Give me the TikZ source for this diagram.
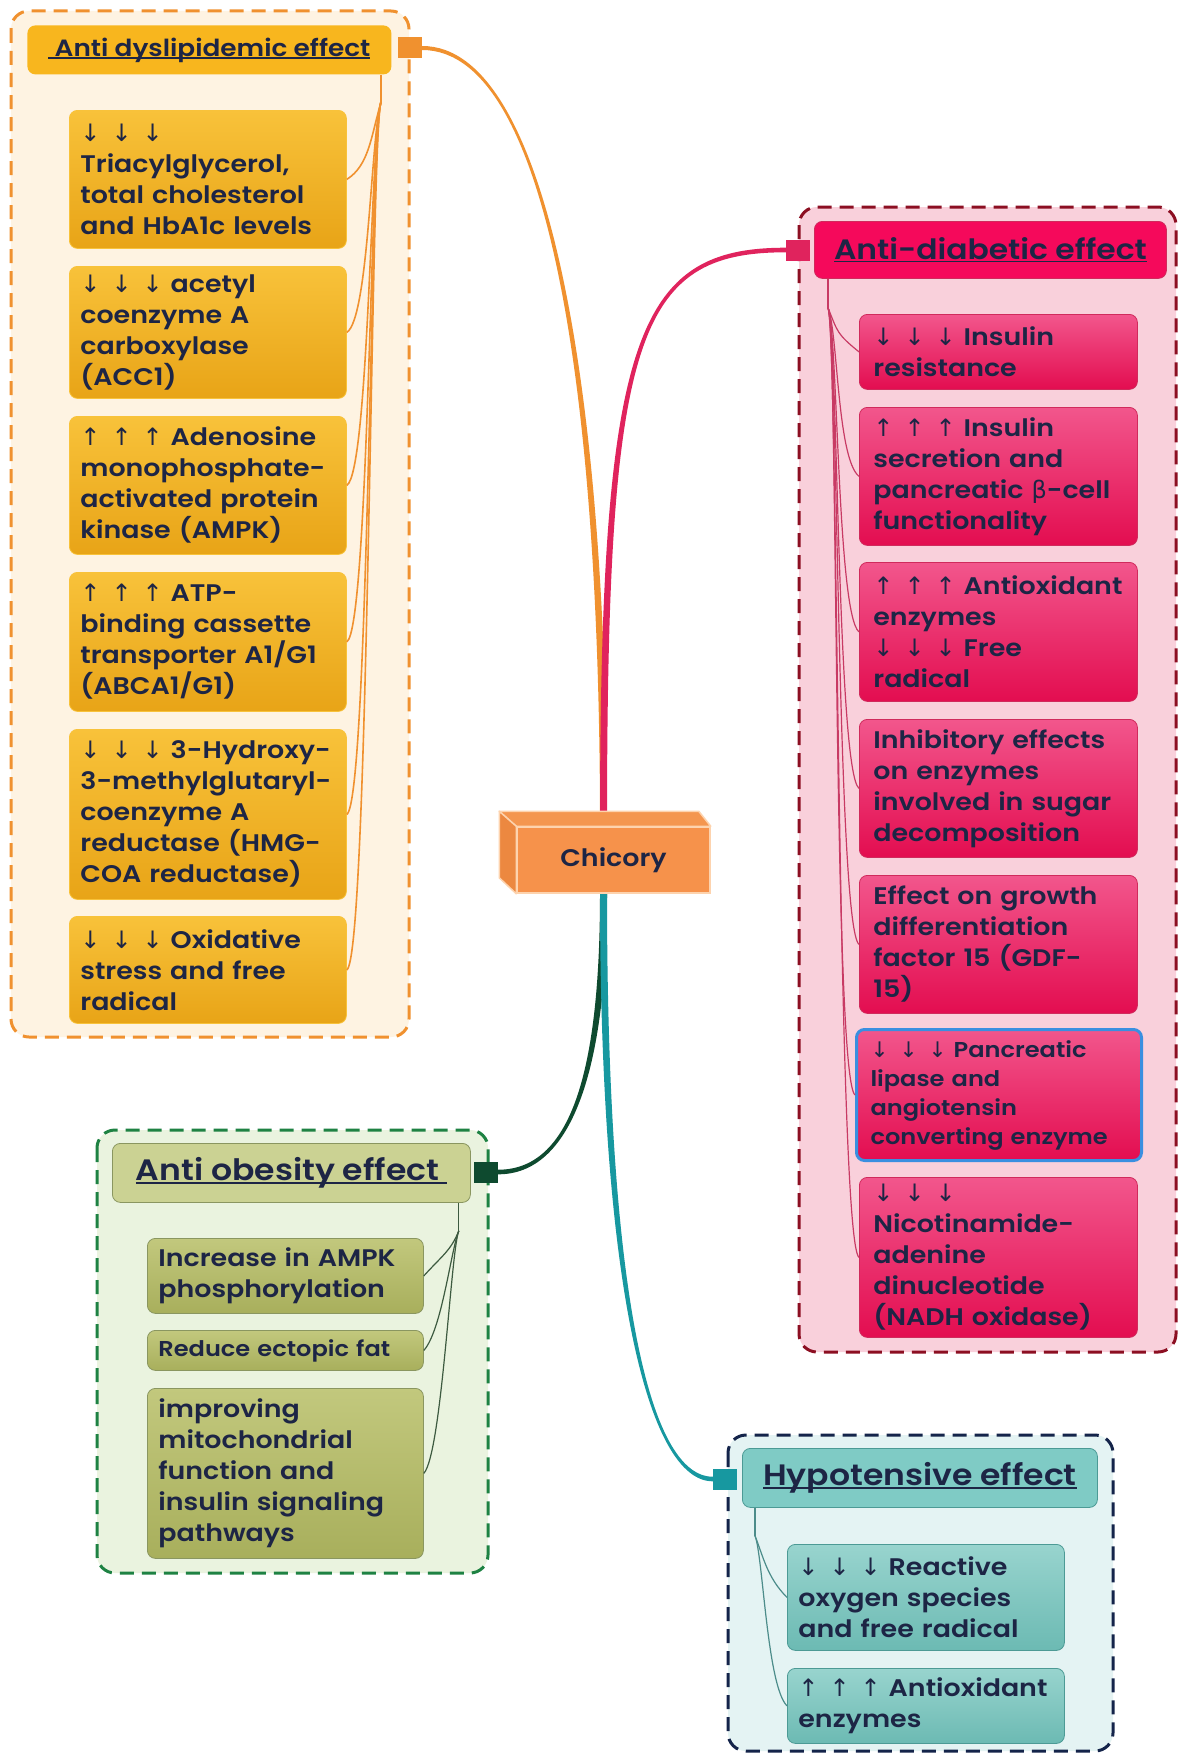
\documentclass[tikz,border=0pt]{standalone}
\usepackage{fontspec}
\newfontfamily\pop{Poppins SemiBold}[FakeStretch=1.12]
\newfontfamily\djv{DejaVu Sans}
\usetikzlibrary{calc,backgrounds}
\newcommand\dn{{\djv ↓}}
\newcommand\upa{{\djv ↑}}
\newcommand\ddd{\dn\hspace{11pt}\dn\hspace{11pt}\dn}
\newcommand\uuu{\upa\hspace{11pt}\upa\hspace{11pt}\upa}
\newsavebox\ulbox
\newcommand\ttl[1]{\sbox\ulbox{#1}\rlap{\rule[-3pt]{\wd\ulbox}{1.8pt}}\usebox\ulbox}
\definecolor{txt}{HTML}{1D2545}
\definecolor{cO}{HTML}{F0912F}
\definecolor{oBg}{HTML}{FEF3E2}
\definecolor{oTitle}{HTML}{F8B61E}
\definecolor{oTop}{HTML}{F8C23A}
\definecolor{oBot}{HTML}{E8A417}
\definecolor{cP}{HTML}{E0235D}
\definecolor{pBord}{HTML}{8C0F22}
\definecolor{pBg}{HTML}{F9D0DB}
\definecolor{pTitle}{HTML}{F5095B}
\definecolor{pTop}{HTML}{F2568C}
\definecolor{pBot}{HTML}{E30D50}
\definecolor{pEdge}{HTML}{D02A5C}
\definecolor{pConn}{HTML}{C83A64}
\definecolor{cG}{HTML}{0E4A2F}
\definecolor{gBord}{HTML}{1E8243}
\definecolor{gBg}{HTML}{EAF3DF}
\definecolor{gTitle}{HTML}{CBD293}
\definecolor{gEdge}{HTML}{8A9660}
\definecolor{gTop}{HTML}{C2C87D}
\definecolor{gBot}{HTML}{A8AF5C}
\definecolor{gConn}{HTML}{3D5A40}
\definecolor{cT}{HTML}{1798A0}
\definecolor{tBord}{HTML}{14244A}
\definecolor{tBg}{HTML}{E4F3F3}
\definecolor{tTitle}{HTML}{7FCBC5}
\definecolor{tEdge}{HTML}{4C9A95}
\definecolor{tTop}{HTML}{98D4CE}
\definecolor{tBot}{HTML}{6CBAB3}
\definecolor{tConn}{HTML}{4C8C8A}
\definecolor{chF}{HTML}{F6924B}
\definecolor{chT}{HTML}{F4964F}
\definecolor{chL}{HTML}{EC8840}
\definecolor{chE}{HTML}{FDD3AE}
\definecolor{blueEdge}{HTML}{3A8FE0}
\tikzset{
  cont/.style={line width=3pt, dash pattern=on 14pt off 8pt, rounded corners=18pt},
  sq/.style={rectangle, inner sep=0pt, minimum width=24pt, minimum height=21pt},
  bodyfont/.style={font=\pop\fontsize{24}{31}\selectfont},
  childbox/.style={rectangle, rounded corners=8pt, align=left, anchor=north west,
    inner xsep=11pt, inner ysep=0pt, text=txt, bodyfont, line width=0.8pt},
  obox/.style={childbox, top color=oTop, bottom color=oBot, draw=oTop},
  pbox/.style={childbox, top color=pTop, bottom color=pBot, draw=pEdge, inner xsep=14pt},
  gbox/.style={childbox, top color=gTop, bottom color=gBot, draw=gEdge},
  tbox/.style={childbox, top color=tTop, bottom color=tBot, draw=tEdge},
  titlebox/.style={rectangle, rounded corners=8pt, anchor=north west, inner sep=0pt, text=txt, line width=0.8pt},
  thin/.style={line width=1.2pt},
}
\begin{document}
\begin{tikzpicture}[x=1pt,y=-1pt]
\useasboundingbox (0,0) rectangle (1178,1753);

% ---------- central node ----------
\node[rectangle, fill=chF, draw=chE, line width=1.5pt, minimum width=193pt, minimum height=66pt,
      inner sep=0pt, text=txt, font=\pop\fontsize{24}{28}\selectfont] (chic) at (613.5,860) {Chicory};
\filldraw[fill=chT, draw=chE, line width=1.5pt, line join=round]
  ($(chic.north west)+(-17,-15)$) -- ($(chic.north east)+(-12,-15)$) -- (chic.north east) -- (chic.north west) -- cycle;
\filldraw[fill=chL, draw=chE, line width=1.5pt, line join=round]
  ($(chic.north west)+(-17,-15)$) -- (chic.north west) -- (chic.south west) -- ($(chic.south west)+(-17,-16)$) -- cycle;
\coordinate (ctop) at ($(chic.north)+(-10,0)$);
\coordinate (cbot) at ($(chic.south)+(-10,0)$);

% ---------- connector squares ----------
\node[sq, fill=cO] (sqA) at (410,48) {};
\node[sq, fill=cP] (sqB) at (798,250) {};
\node[sq, fill=cG] (sqC) at (486,1172) {};
\node[sq, fill=cT] (sqD) at (725,1479) {};

% ---------- titles ----------
\node[titlebox, fill=oTitle, minimum width=364pt, minimum height=49pt,
      font=\pop\fontsize{23.5}{28}\selectfont] (tA) at (27,25) {\ttl{\ Anti dyslipidemic effect}};
\node[titlebox, fill=pTitle, draw=pEdge, minimum width=352pt, minimum height=57pt,
      font=\pop\fontsize{28}{32}\selectfont] (tB) at (814,221) {\ttl{Anti-diabetic effect}};
\node[titlebox, fill=gTitle, draw=gEdge, minimum width=358pt, minimum height=59pt,
      font=\pop\fontsize{29.5}{33}\selectfont] (tC) at (112,1143) {\ttl{Anti obesity effect\ }};
\node[titlebox, fill=tTitle, draw=tEdge, minimum width=355pt, minimum height=59pt,
      font=\pop\fontsize{29.5}{33}\selectfont] (tD) at (742,1448) {\ttl{Hypotensive effect}};

% ---------- orange children ----------
\node[obox, minimum width=277pt, minimum height=138pt, text width=255pt] (oa1) at (69,110)
  {\ddd\\Triacylglycerol,\\total cholesterol\\and HbA1c levels};
\node[obox, minimum width=277pt, minimum height=132pt, text width=255pt] (oa2) at (69,266)
  {\ddd{} acetyl\\coenzyme A\\carboxylase\\(ACC1)};
\node[obox, minimum width=277pt, minimum height=138pt, text width=255pt] (oa3) at (69,416)
  {\uuu{} Adenosine\\monophosphate-\\activated protein\\kinase (AMPK)};
\node[obox, minimum width=277pt, minimum height=139pt, text width=255pt] (oa4) at (69,572)
  {\uuu{} ATP-\\binding cassette\\transporter A1/G1\\(ABCA1/G1)};
\node[obox, minimum width=277pt, minimum height=170pt, text width=255pt] (oa5) at (69,729)
  {\ddd{} 3-Hydroxy-\\3-methylglutaryl-\\coenzyme A\\reductase (HMG-\\COA reductase)};
\node[obox, minimum width=277pt, minimum height=107pt, text width=255pt] (oa6) at (69,916)
  {\ddd{} Oxidative\\stress and free\\radical};

% ---------- pink children ----------
\node[pbox, minimum width=278pt, minimum height=75pt, text width=250pt] (pb1) at (859,314)
  {\ddd{} Insulin\\resistance};
\node[pbox, minimum width=278pt, minimum height=138pt, text width=250pt] (pb2) at (859,407)
  {\uuu{} Insulin\\secretion and\\pancreatic {\djv β}-cell\\functionality};
\node[pbox, minimum width=278pt, minimum height=139pt, text width=250pt] (pb3) at (859,562)
  {\uuu{} Antioxidant\\enzymes\\\ddd{} Free\\radical};
\node[pbox, minimum width=278pt, minimum height=138pt, text width=250pt] (pb4) at (859,719)
  {Inhibitory effects\\on enzymes\\involved in sugar\\decomposition};
\node[pbox, minimum width=278pt, minimum height=138pt, text width=250pt] (pb5) at (859,875)
  {Effect on growth\\differentiation\\factor 15 (GDF-\\15)};
\node[pbox, draw=blueEdge, line width=3pt, minimum width=285pt, minimum height=131pt, text width=257pt,
      font=\pop\fontsize{21.5}{29}\selectfont] (pb6) at (855,1028)
  {\ddd{} Pancreatic\\lipase and\\angiotensin\\converting enzyme};
\node[pbox, minimum width=278pt, minimum height=160pt, text width=250pt] (pb7) at (859,1177)
  {\ddd\\Nicotinamide-\\adenine\\dinucleotide\\(NADH oxidase)};

% ---------- green children ----------
\node[gbox, minimum width=276pt, minimum height=75pt, text width=254pt] (gc1) at (147,1238)
  {Increase in AMPK\\phosphorylation};
\node[gbox, minimum width=276pt, minimum height=40pt, text width=254pt,
      font=\pop\fontsize{21.5}{26}\selectfont] (gc2) at (147,1330)
  {Reduce ectopic fat};
\node[gbox, minimum width=276pt, minimum height=170pt, text width=254pt] (gc3) at (147,1388)
  {improving\\mitochondrial\\function and\\insulin signaling\\pathways};

% ---------- teal children ----------
\node[tbox, minimum width=277pt, minimum height=106pt, text width=255pt] (td1) at (787,1544)
  {\ddd{} Reactive\\oxygen species\\and free radical};
\node[tbox, minimum width=277pt, minimum height=75pt, text width=255pt] (td2) at (787,1668)
  {\uuu{} Antioxidant\\enzymes};

% ---------- background: containers and main curves ----------
\begin{pgfonlayer}{background}
\fill[white] (0,0) rectangle (1178,1753);
\draw[cont, draw=cO, fill=oBg] (11,11) rectangle (409,1037);
\draw[cont, draw=pBord, fill=pBg] (799,207) rectangle (1176,1352);
\draw[cont, draw=gBord, fill=gBg] (97,1130) rectangle (488,1573);
\draw[cont, draw=tBord, fill=tBg] (728,1435) rectangle (1113,1751);
% tapered main connectors
\fill[cO] ($(ctop)+(-3.5,0)$) .. controls ($(ctop)+(-3.5,-436)$) and ($(sqA.east)+(126,2)$) .. ($(sqA.east)+(0,2)$)
  -- ($(sqA.east)+(0,-2)$) .. controls ($(sqA.east)+(126,-2)$) and ($(ctop)+(3.5,-436)$) .. ($(ctop)+(3.5,0)$) -- cycle;
\fill[cP] ($(ctop)+(-3.5,0)$) .. controls ($(ctop)+(-3.5,-492)$) and ($(sqB.west)+(-149,-2.3)$) .. ($(sqB.west)+(0,-2.3)$)
  -- ($(sqB.west)+(0,2.3)$) .. controls ($(sqB.west)+(-149,2.3)$) and ($(ctop)+(3.5,-492)$) .. ($(ctop)+(3.5,0)$) -- cycle;
\fill[cG] ($(cbot)+(-3.5,0)$) .. controls ($(cbot)+(-3.5,180)$) and ($(sqC.east)+(72,-2.3)$) .. ($(sqC.east)+(0,-2.3)$)
  -- ($(sqC.east)+(0,2.3)$) .. controls ($(sqC.east)+(72,2.3)$) and ($(cbot)+(3.5,180)$) .. ($(cbot)+(3.5,0)$) -- cycle;
\fill[cT] ($(cbot)+(-3.5,0)$) .. controls ($(cbot)+(-3.5,392)$) and ($(sqD.west)+(-65,2.3)$) .. ($(sqD.west)+(0,2.3)$)
  -- ($(sqD.west)+(0,-2.3)$) .. controls ($(sqD.west)+(-65,-2.3)$) and ($(cbot)+(3.5,392)$) .. ($(cbot)+(3.5,0)$) -- cycle;
\end{pgfonlayer}

% ---------- branch connectors ----------
\coordinate (jA) at ($(tA.south east)+(-11,28)$);
\draw[thin, draw=cO, line width=2pt] ($(tA.south east)+(-11,0)$) -- (jA);
\foreach \n in {oa1,oa2,oa3,oa4,oa5,oa6}
  \draw[thin, draw=cO, line width=1.6pt] (jA) .. controls ($(jA)+(-10,35)$) and ($(\n.east)+(22,-14)$) .. (\n.east);

\coordinate (jB) at ($(tB.south west)+(14,29)$);
\draw[thin, draw=pConn] ($(tB.south west)+(14,0)$) -- (jB);
\foreach \n in {pb1,pb2,pb3,pb4,pb5,pb6,pb7}
  \draw[thin, draw=pConn] (jB) .. controls ($(jB)+(10,25)$) and ($(\n.west)+(-22,-18)$) .. (\n.west);

\coordinate (jC) at ($(tC.south east)+(-12,28)$);
\draw[thin, draw=gConn] ($(tC.south east)+(-12,0)$) -- (jC);
\foreach \n in {gc1,gc2,gc3}
  \draw[thin, draw=gConn] (jC) .. controls ($(jC)+(-8,20)$) and ($(\n.east)+(18,-20)$) .. (\n.east);

\coordinate (jD) at ($(tD.south west)+(13,28)$);
\draw[thin, draw=tConn] ($(tD.south west)+(13,0)$) -- (jD);
\foreach \n in {td1,td2}
  \draw[thin, draw=tConn] (jD) .. controls ($(jD)+(8,20)$) and ($(\n.west)+(-20,-20)$) .. (\n.west);
\end{tikzpicture}
\end{document}
